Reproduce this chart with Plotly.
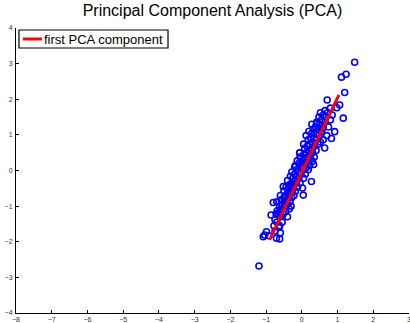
import plotly.graph_objects as go

# Sample points (x, y)
pts_x = [
    -1.20, -1.04, -0.99, -0.71, -0.64, -0.60, -1.08, -0.40, -0.80, -0.69, -0.66, -0.52, -0.92, -0.62, -0.75,
    1.48, 1.11, 1.24, 1.20, 0.71, 1.16, 1.06, 0.98, 0.92, 0.83, 0.64,
    -0.78, -0.62, -0.70, -0.55, -0.75, -0.60, -0.52, -0.72, -0.45, -0.62, -0.58, -0.35,
    -0.48, -0.62, -0.30, -0.40, -0.55, -0.70, -0.33, -0.48, -0.42, -0.58, -0.28, -0.50, -0.36,
    -0.45, -0.60, -0.22, -0.32, -0.40, -0.50, -0.18, -0.28, -0.38, -0.25, -0.30, -0.12, -0.44,
    -0.22, -0.35, -0.05, -0.28, -0.15, -0.40, -0.18, -0.08, -0.25, 0.05, -0.15, -0.32,
    -0.02, -0.20, 0.10, -0.10, -0.28, 0.05, -0.15, 0.18, -0.05, 0.12, 0.02, -0.18, 0.22,
    0.10, -0.08, 0.18, 0.00, 0.30, 0.08, 0.25, -0.05, 0.15, 0.35, 0.22, 0.05,
    0.12, 0.30, -0.06, 0.20, 0.40, 0.08, 0.28, 0.35, 0.15, 0.22, 0.45, 0.05,
    0.30, 0.52, 0.18, 0.40, 0.60, 0.35, 0.25, 0.48, 0.12, 0.70, 0.40, 0.28,
    0.55, 0.20, 0.45, 0.32, 0.60, 0.38, 0.75, 0.50, 0.28, 0.65, 0.42, 0.55, 0.80,
    0.48, 0.68, 0.60, 0.85, 0.72, 0.52, 0.65, 0.80, 0.27, 0.04, -0.06, -0.20,
    -0.86, -0.38, 0.41, 0.58, -0.13, 0.33, -0.55, 0.02,
]
pts_y = [
    -2.68, -1.81, -1.72, -1.90, -1.60, -1.75, -1.86, -1.30, -0.90, -1.13, -1.20, -0.45, -1.83, -1.92, -1.70,
    3.04, 2.62, 2.70, 2.19, 1.98, 1.47, 1.84, 1.76, 1.09, 0.90, 0.63,
    -1.55, -1.55, -1.45, -1.45, -1.38, -1.30, -1.22, -1.22, -1.15, -1.15, -1.08, -1.08,
    -1.00, -1.00, -1.00, -0.95, -0.95, -0.88, -0.88, -0.88, -0.82, -0.82, -0.76, -0.76, -0.76,
    -0.70, -0.70, -0.70, -0.64, -0.64, -0.58, -0.58, -0.58, -0.52, -0.52, -0.46, -0.46, -0.46,
    -0.40, -0.40, -0.35, -0.35, -0.35, -0.28, -0.28, -0.22, -0.22, -0.22, -0.16, -0.16,
    -0.10, -0.10, -0.10, -0.04, -0.04, 0.02, 0.02, 0.02, 0.08, 0.08, 0.14, 0.14, 0.14,
    0.20, 0.20, 0.26, 0.26, 0.26, 0.32, 0.32, 0.38, 0.38, 0.38, 0.44, 0.44,
    0.50, 0.50, 0.50, 0.56, 0.56, 0.62, 0.62, 0.68, 0.68, 0.74, 0.74, 0.74,
    0.80, 0.80, 0.86, 0.86, 0.86, 0.92, 0.92, 0.98, 0.98, 0.98, 1.04, 1.04,
    1.10, 1.10, 1.16, 1.16, 1.22, 1.22, 1.22, 1.30, 1.30, 1.36, 1.36, 1.42, 1.42,
    1.50, 1.50, 1.56, 1.56, 1.62, 1.62, 1.68, 1.75, -0.31, -0.69, 0.49, 0.10,
    -1.25, -0.62, 1.31, 1.18, 0.27, 0.17, -0.98, -0.49,
]

# First PCA component segment endpoints and mean
pca_x = [-0.90, 1.04]
pca_y = [-1.95, 2.12]
mean_x = [0.05]
mean_y = [0.07]

x_ticks = [-8, -7, -6, -5, -4, -3, -2, -1, 0, 1, 2, 3]
y_ticks = [-4, -3, -2, -1, 0, 1, 2, 3, 4]

legend_label = "first PCA component"
FONT = "Liberation Sans, Arial, sans-serif"

fig = go.Figure()
fig.add_trace(go.Scatter(
    x=pts_x, y=pts_y, mode="markers", showlegend=False,
    marker=dict(symbol="circle-open", size=6, color="#0000ff", line=dict(width=1.6, color="#0000ff")),
))
fig.add_trace(go.Scatter(
    x=pca_x, y=pca_y, mode="lines", name=legend_label, showlegend=False,
    line=dict(color="#ff0000", width=3),
))
fig.add_trace(go.Scatter(
    x=mean_x, y=mean_y, mode="markers", showlegend=False,
    marker=dict(symbol="circle", size=5, color="#ff0000"),
))

# MATLAB-style compact legend box
fig.add_shape(type="rect", xref="paper", yref="paper", x0=0.0076, x1=0.3868, y0=0.9298, y1=0.993,
              line=dict(color="black", width=1.2), fillcolor="white", layer="above")
fig.add_shape(type="line", xref="paper", yref="paper", x0=0.0178, x1=0.0662, y0=0.9614, y1=0.9614,
              line=dict(color="#ff0000", width=3), layer="above")
fig.add_annotation(xref="paper", yref="paper", x=0.0695, y=0.9614, xanchor="left", yanchor="middle",
                   text=legend_label, showarrow=False, borderpad=0,
                   font=dict(family=FONT, size=13, color="black"))

axis_common = dict(
    showgrid=False, zeroline=False, showline=True, linecolor="black", linewidth=1,
    ticks="inside", ticklen=3, tickcolor="black", tickwidth=1,
    tickfont=dict(family=FONT, size=7, color="#333333"),
    automargin=False, ticklabeloverflow="allow",
)

fig.update_layout(
    width=410, height=323,
    margin=dict(l=16, r=1, t=28, b=10),
    paper_bgcolor="white", plot_bgcolor="white",
    title=dict(
        text="Principal Component Analysis (PCA)",
        x=0.5, xref="paper", xanchor="center",
        y=1, yref="container", yanchor="top", pad=dict(t=5),
        font=dict(family=FONT, size=16, color="black"),
    ),
    xaxis=dict(range=[-8, 3], tickvals=x_ticks, ticklabelstandoff=0, **axis_common),
    yaxis=dict(range=[-4, 4], tickvals=y_ticks, ticklabelstandoff=1, **axis_common),
)

fig.write_html("out.html", config={"displayModeBar": False},
               post_script="document.body.style.margin='0px';")
